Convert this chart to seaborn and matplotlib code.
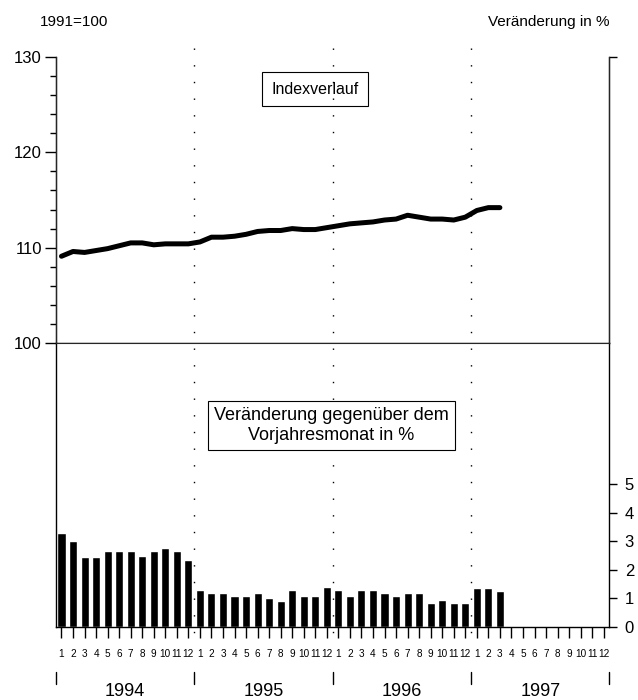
import numpy as np
import pandas as pd
import matplotlib
matplotlib.use("Agg")
import matplotlib.pyplot as plt
import matplotlib.transforms as mtransforms
import seaborn as sns

# Data
years = ["1994", "1995", "1996", "1997"]
month_labels = [str(m) for m in range(1, 13)] * 4

index_values = [
    109.1, 109.6, 109.5, 109.7, 109.9, 110.2, 110.5, 110.5, 110.3, 110.4, 110.4, 110.4,
    110.6, 111.1, 111.1, 111.2, 111.4, 111.7, 111.8, 111.8, 112.0, 111.9, 111.9, 112.1,
    112.3, 112.5, 112.6, 112.7, 112.9, 113.0, 113.4, 113.2, 113.0, 113.0, 112.9, 113.2,
    113.9, 114.2, 114.2,
]
change_values = [
    3.3, 3.0, 2.45, 2.45, 2.65, 2.65, 2.65, 2.5, 2.65, 2.75, 2.65, 2.35,
    1.3, 1.2, 1.2, 1.1, 1.1, 1.2, 1.0, 0.9, 1.3, 1.1, 1.1, 1.4,
    1.3, 1.1, 1.3, 1.3, 1.2, 1.1, 1.2, 1.2, 0.85, 0.95, 0.85, 0.85,
    1.35, 1.35, 1.25,
]

df_idx = pd.DataFrame({"month": np.arange(len(index_values)), "index": index_values})
df_chg = pd.DataFrame({"month": np.arange(len(change_values)), "change": change_values})

sns.set_style("ticks")
plt.rcParams["font.family"] = ["Liberation Sans", "DejaVu Sans"]
plt.rcParams["text.color"] = "black"
plt.rcParams["xtick.color"] = "black"
plt.rcParams["ytick.color"] = "black"
plt.rcParams["xtick.labelcolor"] = "black"
plt.rcParams["ytick.labelcolor"] = "black"

fig = plt.figure(figsize=(6.38, 7.0), dpi=100)
L = 55.7 / 638
W = (609.5 - 55.7) / 638
ax1 = fig.add_axes([L, 357 / 700, W, 286 / 700])
ax2 = fig.add_axes([L, 73 / 700, W, 284 / 700])

# Top: index line
sns.lineplot(data=df_idx, x="month", y="index", color="black", lw=3.6, ax=ax1)
ax1.set_xlim(-0.5, 47.5)
ax1.set_ylim(100, 130)
ax1.set_yticks([100, 110, 120, 130])
ax1.set_yticks(np.arange(100, 131, 2), minor=True)
ax1.set_xticks(np.arange(48))
ax1.set_xticklabels([])
ax1.tick_params(axis="x", direction="out", length=7, width=1)
ax1.tick_params(axis="y", which="major", length=8, width=1, labelsize=12, pad=2)
ax1.tick_params(axis="y", which="minor", length=4, width=1)
ax1.set_xlabel("")
ax1.set_ylabel("")
ax1.spines["top"].set_visible(False)
for s in ["left", "right", "bottom"]:
    ax1.spines[s].set_color("black")
    ax1.spines[s].set_linewidth(1)
ax1r = ax1.twinx()
ax1r.set_ylim(100, 130)
ax1r.set_yticks([130])
ax1r.set_yticklabels([])
ax1r.tick_params(axis="y", length=6, width=1)
ax1r.spines["top"].set_visible(False)
ax1.text(21.95, 126.6, "Indexverlauf", ha="center", va="center", fontsize=11.5,
         bbox=dict(boxstyle="square,pad=0.6", fc="white", ec="black", lw=0.8))

# Bottom: bars of change in percent
sns.barplot(data=df_chg, x="month", y="change", native_scale=True, color="black",
            width=0.7, ax=ax2)
ax2.set_xlim(-0.5, 47.5)
ax2.set_ylim(0, (627 - 343) / 28.6)
ax2.set_xlabel("")
ax2.set_ylabel("")
ax2.set_xticks(np.arange(48))
ax2.set_xticklabels(month_labels, fontsize=7.2)
ax2.tick_params(axis="x", direction="out", length=8, width=1, pad=8)
ax2.yaxis.tick_right()
ax2.set_yticks(range(6))
ax2.tick_params(axis="y", direction="out", length=6, width=1, labelsize=12, pad=5)
ax2.spines["top"].set_visible(False)
ax2.spines["left"].set_visible(True)
ax2.spines["right"].set_visible(True)
for s in ["left", "right", "bottom"]:
    ax2.spines[s].set_color("black")
    ax2.spines[s].set_linewidth(1)
ax2.text(23.4, 7.05, "Veränderung gegenüber dem\nVorjahresmonat in %", ha="center",
         va="center", fontsize=13, linespacing=1.2,
         bbox=dict(boxstyle="square,pad=0.35", fc="white", ec="black", lw=0.8))

# Year separators, dotted lines and labels
trans = mtransforms.blended_transform_factory(ax2.transData, fig.transFigure)
for k in range(1, 4):
    x = -0.5 + 12 * k
    ax2.plot([x, x], [1 - 48 / 700, 1 - 645 / 700], transform=trans, clip_on=False,
             color="black", lw=1, linestyle=(0, (1, 11)))
for k in range(5):
    x = -0.5 + 12 * k
    ax2.plot([x, x], [1 - 672 / 700, 1 - 684 / 700], transform=trans, clip_on=False,
             color="black", lw=1)
for k, yr in enumerate(years):
    ax2.text(5.5 + 12 * k, 1 - 691 / 700, yr, transform=trans, ha="center",
             va="center", fontsize=13)

fig.text(40 / 638, 1 - 22 / 700, "1991=100", ha="left", va="center", fontsize=11)
fig.text(610 / 638, 1 - 22 / 700, "Veränderung in %", ha="right", va="center",
         fontsize=11)

fig.savefig("out.png", dpi=100)
